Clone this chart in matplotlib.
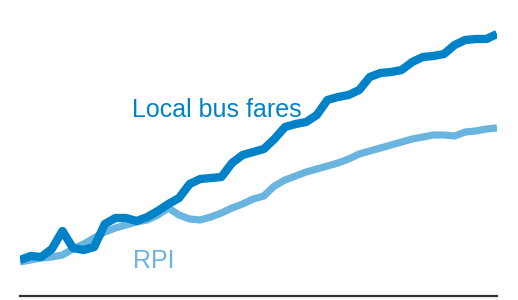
import numpy as np
import matplotlib.pyplot as plt

# index values (quarterly, start ~ 100)
bus_fares = [100, 102, 101.5, 105.5, 114.5, 106, 105, 106.5, 118, 121,
             121, 119.5, 121.5, 124.5, 128, 131, 138, 140.5, 141, 141.5,
             148.5, 152.5, 154, 155.5, 160.5, 166.5, 168, 169, 172.5, 180,
             181.5, 182.5, 185, 191.5, 193.5, 194, 195, 199, 201.5, 202,
             203, 207.5, 210, 210.5, 210.5, 213]
rpi = [99, 100, 101, 101.5, 102.5, 105.5, 108, 111, 114, 116,
       117.5, 119, 120, 122.5, 126, 122.5, 120.5, 120, 121.5, 123.5,
       126, 128, 130.5, 132, 137, 140, 142, 144, 145.5, 147,
       148.5, 150.5, 153, 154.5, 156, 157.5, 159, 160.5, 161.5, 162.5,
       162.5, 162, 164, 164.5, 165.5, 166]
x = np.arange(len(bus_fares))

dark = '#0082c8'
light = '#6ab4e0'

plt.rcParams['font.family'] = ['Liberation Sans', 'DejaVu Sans']
fig = plt.figure(figsize=(5.18, 3.0), dpi=100)
ax = fig.add_axes([20/518, 4/300, 477/518, 296/300])

ax.plot(x, rpi, color=light, lw=5.2, solid_capstyle='butt', solid_joinstyle='round')
ax.plot(x, bus_fares, color=dark, lw=6.0, solid_capstyle='butt', solid_joinstyle='round')

ax.text(10.57, 171.5, 'Local bus fares', color=dark, fontsize=18, va='baseline', ha='left')
ax.text(10.67, 96, 'RPI', color=light, fontsize=18, va='baseline', ha='left')

ax.set_xlim(0, len(x) - 1)
ax.set_ylim(82, 230)
for s in ['top', 'left', 'right']:
    ax.spines[s].set_visible(False)
ax.spines['bottom'].set_color('#333333')
ax.spines['bottom'].set_linewidth(1.6)
ax.set_xticks([])
ax.set_yticks([])

fig.savefig('out.png', dpi=100)
